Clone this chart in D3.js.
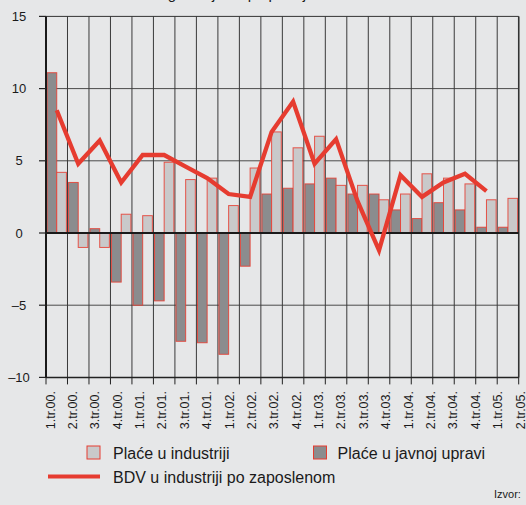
<!DOCTYPE html>
<html>
<head>
<meta charset="utf-8">
<script src="https://cdn.jsdelivr.net/npm/d3@7"></script>
<style>
  body { margin: 0; background: #e6e7e8; }
  text { font-family: "Liberation Sans", Arial, Helvetica, sans-serif; fill: #1a1a1a; }
</style>
</head>
<body>
<div id="chart"></div>
<script>
// quarters on the x axis
const quarters = ["1.tr.00.", "2.tr.00.", "3.tr.00.", "4.tr.00.", "1.tr.01.", "2.tr.01.", "3.tr.01.", "4.tr.01.",
  "1.tr.02.", "2.tr.02.", "3.tr.02.", "4.tr.02.", "1.tr.03.", "2.tr.03.", "3.tr.03.", "4.tr.03.",
  "1.tr.04.", "2.tr.04.", "3.tr.04.", "4.tr.04.", "1.tr.05.", "2.tr.05."];
// wages in industry (light bars)
const placeIndustrija = [4.2, -1.0, -1.0, 1.3, 1.2, 4.9, 3.7, 3.8, 1.9, 4.5, 7.0, 5.9, 6.7, 3.3, 3.3, 2.3, 2.7, 4.1, 3.8, 3.4, 2.3, 2.4];
// wages in public administration (dark bars)
const placeUprava = [11.1, 3.5, 0.3, -3.4, -5.0, -4.7, -7.5, -7.6, -8.4, -2.3, 2.7, 3.1, 3.4, 3.8, 2.7, 2.7, 1.6, 1.0, 2.1, 1.6, 0.4, 0.4];
// gross value added per employee in industry (line)
const bdv = [8.5, 4.8, 6.4, 3.5, 5.4, 5.4, 4.6, 3.8, 2.7, 2.5, 7.0, 9.1, 4.8, 6.5, 2.2, -1.2, 4.0, 2.5, 3.5, 4.1, 2.9, null];
const yTicks = [15, 10, 5, 0, -5, -10];

const W = 526, H = 505;
const RED = "#e63c30";
const LIGHT = "#c9c9ca";
const DARK = "#8b8c8e";

const svg = d3.select("#chart").append("svg")
  .attr("width", W).attr("height", H);

svg.append("rect").attr("width", W).attr("height", H).attr("fill", "#e6e7e8");

// clipped title (only descenders show)
svg.append("text").attr("x", 116).attr("y", -1)
  .style("font-size", "15px").text("Realne godišnje stope promjene");

const plotLeft = 46, plotRight = 518.7, plotTop = 16.4, plotBottom = 377.4;

const x = d3.scaleBand().domain(quarters).range([plotLeft, plotRight]).paddingInner(0.1).paddingOuter(0.05);
const xs = d3.scaleBand().domain(["uprava", "industrija"]).range([0, x.bandwidth()]);
const y = d3.scaleLinear().domain([-10, 15]).range([plotBottom, plotTop]);
const labelX = d3.scalePoint().domain(quarters).range([54.5, 524.5]);

const boundaries = d3.range(quarters.length + 1).map(i => plotLeft + i * x.step());

// horizontal grid lines
svg.append("g").selectAll("line").data(yTicks.filter(t => t !== 0 && t !== -10 && t !== 15)).enter()
  .append("line")
  .attr("x1", plotLeft).attr("x2", plotRight)
  .attr("y1", d => y(d)).attr("y2", d => y(d))
  .attr("stroke", "#4a4a4a").attr("stroke-width", 1);

// vertical grid lines
svg.append("g").selectAll("line").data(boundaries).enter()
  .append("line")
  .attr("x1", d => d).attr("x2", d => d)
  .attr("y1", plotTop).attr("y2", plotBottom)
  .attr("stroke", "#3a3a3a").attr("stroke-width", 1);

// bars
const bars = svg.append("g");
bars.selectAll("rect.uprava").data(placeUprava).enter().append("rect")
  .attr("class", "uprava")
  .attr("x", (d, i) => x(quarters[i]) + xs("uprava"))
  .attr("width", xs.bandwidth())
  .attr("y", d => y(Math.max(0, d)))
  .attr("height", d => Math.abs(y(d) - y(0)))
  .attr("fill", DARK).attr("stroke", RED).attr("stroke-width", 1).attr("stroke-opacity", 0.85);
bars.selectAll("rect.industrija").data(placeIndustrija).enter().append("rect")
  .attr("class", "industrija")
  .attr("x", (d, i) => x(quarters[i]) + xs("industrija"))
  .attr("width", xs.bandwidth())
  .attr("y", d => y(Math.max(0, d)))
  .attr("height", d => Math.abs(y(d) - y(0)))
  .attr("fill", LIGHT).attr("stroke", RED).attr("stroke-width", 1).attr("stroke-opacity", 0.85);

// plot frame
svg.append("line").attr("x1", plotLeft).attr("x2", plotRight).attr("y1", plotTop).attr("y2", plotTop)
  .attr("stroke", "#333").attr("stroke-width", 1);
svg.append("line").attr("x1", plotRight).attr("x2", plotRight).attr("y1", plotTop).attr("y2", plotBottom)
  .attr("stroke", "#333").attr("stroke-width", 1.5);
svg.append("line").attr("x1", plotLeft).attr("x2", plotRight).attr("y1", plotBottom).attr("y2", plotBottom)
  .attr("stroke", "#222").attr("stroke-width", 1.5);
// zero line
svg.append("line").attr("x1", plotLeft).attr("x2", plotRight).attr("y1", y(0)).attr("y2", y(0))
  .attr("stroke", "#1a1a1a").attr("stroke-width", 2.2);
// y axis line
svg.append("line").attr("x1", plotLeft).attr("x2", plotLeft).attr("y1", plotTop).attr("y2", plotBottom)
  .attr("stroke", "#1a1a1a").attr("stroke-width", 2);

// y ticks and labels
const yAxis = svg.append("g");
yAxis.selectAll("line").data(yTicks).enter().append("line")
  .attr("x1", 39).attr("x2", plotLeft).attr("y1", d => y(d)).attr("y2", d => y(d))
  .attr("stroke", "#222").attr("stroke-width", 1.2);
yAxis.selectAll("text").data(yTicks).enter().append("text")
  .attr("x", 19).attr("y", d => y(d)).attr("dy", "0.36em")
  .attr("text-anchor", "middle").style("font-size", "13px")
  .text(d => d < 0 ? "\u2013" + Math.abs(d) : d);

// x ticks
svg.append("g").selectAll("line").data(boundaries).enter().append("line")
  .attr("x1", d => d).attr("x2", d => d).attr("y1", plotBottom).attr("y2", plotBottom + 7)
  .attr("stroke", "#222").attr("stroke-width", 1);

// x labels
svg.append("g").selectAll("text").data(quarters).enter().append("text")
  .attr("transform", d => "translate(" + labelX(d) + ",391) rotate(-90)")
  .attr("text-anchor", "end").style("font-size", "12.5px")
  .text(d => d);

// BDV line
const bdvPoints = bdv.map((v, i) => ({q: quarters[i], v: v})).filter(p => p.v !== null);
const line = d3.line()
  .x(p => x(p.q) + x.bandwidth() / 2)
  .y(p => y(p.v));
svg.append("path").datum(bdvPoints).attr("d", line)
  .attr("fill", "none").attr("stroke", RED).attr("stroke-width", 4.3)
  .attr("stroke-linejoin", "miter");

// legend
const lg = svg.append("g");
lg.append("rect").attr("x", 87).attr("y", 446).attr("width", 13).attr("height", 13)
  .attr("fill", LIGHT).attr("stroke", RED).attr("stroke-width", 1);
lg.append("text").attr("x", 113).attr("y", 459).style("font-size", "16px").text("Plaće u industriji");
lg.append("rect").attr("x", 313.5).attr("y", 446).attr("width", 13).attr("height", 13)
  .attr("fill", DARK).attr("stroke", RED).attr("stroke-width", 1);
lg.append("text").attr("x", 337.5).attr("y", 459).style("font-size", "16px").text("Plaće u javnoj upravi");
lg.append("line").attr("x1", 48).attr("x2", 100).attr("y1", 476.5).attr("y2", 476.5)
  .attr("stroke", RED).attr("stroke-width", 4);
lg.append("text").attr("x", 113).attr("y", 483).style("font-size", "16px").text("BDV u industriji po zaposlenom");

// source note
svg.append("text").attr("x", 494).attr("y", 498).style("font-size", "11px").text("Izvor:");
</script>
</body>
</html>
